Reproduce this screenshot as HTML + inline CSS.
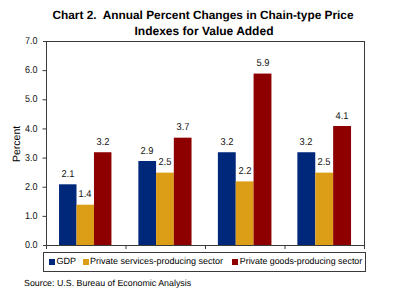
<!DOCTYPE html>
<html><head><meta charset="utf-8"><style>
html,body{margin:0;padding:0;background:#fff;width:400px;height:298px;overflow:hidden;position:relative}
body{font-family:"Liberation Sans",sans-serif;color:#000}
.t{position:absolute;white-space:nowrap;line-height:1;text-rendering:geometricPrecision}
.title{position:absolute;left:0;width:406px;text-align:center;font-weight:bold;font-size:12px;line-height:12px;white-space:nowrap;text-rendering:geometricPrecision}
.vl{position:absolute;width:40px;text-align:center;font-size:10px;line-height:10px;white-space:nowrap;color:#111;transform:scaleX(0.93);text-rendering:geometricPrecision}
.yl{position:absolute;left:0;width:37.5px;text-align:right;font-size:10px;line-height:12px;white-space:nowrap;color:#111;transform:scaleX(0.9);transform-origin:36.8px 0;text-rendering:geometricPrecision}
svg{position:absolute;left:0;top:0}
</style></head><body>
<div class="title" style="top:8.6px;font-size:11.85px">Chart 2.&nbsp; Annual Percent Changes in Chain-type Price</div>
<div class="title" style="top:25px;left:1px">Indexes for Value Added</div>
<svg width="400" height="298" viewBox="0 0 400 298">
<g>
<rect x="59.03" y="184.30" width="17.47" height="61.20" fill="#00287a"/>
<rect x="76.50" y="204.70" width="17.47" height="40.80" fill="#dc9e16"/>
<rect x="93.97" y="152.24" width="17.47" height="93.26" fill="#8e0000"/>
<rect x="138.36" y="160.99" width="17.72" height="84.51" fill="#00287a"/>
<rect x="156.08" y="172.64" width="17.72" height="72.86" fill="#dc9e16"/>
<rect x="173.81" y="137.67" width="17.72" height="107.83" fill="#8e0000"/>
<rect x="217.87" y="152.24" width="17.86" height="93.26" fill="#00287a"/>
<rect x="235.73" y="181.39" width="17.86" height="64.11" fill="#dc9e16"/>
<rect x="253.58" y="73.56" width="17.86" height="171.94" fill="#8e0000"/>
<rect x="297.36" y="152.24" width="17.89" height="93.26" fill="#00287a"/>
<rect x="315.25" y="172.64" width="17.89" height="72.86" fill="#dc9e16"/>
<rect x="333.15" y="126.01" width="17.89" height="119.49" fill="#8e0000"/>
</g>
<g stroke="#3a3a3a" stroke-width="1" fill="none">
<rect x="46.5" y="41.5" width="318" height="204" shape-rendering="crispEdges"/>
<line x1="42.5" y1="41.5" x2="46.5" y2="41.5" shape-rendering="crispEdges"/>
<line x1="42.5" y1="245.5" x2="46.5" y2="245.5" shape-rendering="crispEdges"/>
<line x1="42.5" y1="216.36" x2="46.5" y2="216.36"/>
<line x1="42.5" y1="187.21" x2="46.5" y2="187.21"/>
<line x1="42.5" y1="158.07" x2="46.5" y2="158.07"/>
<line x1="42.5" y1="128.93" x2="46.5" y2="128.93"/>
<line x1="42.5" y1="99.79" x2="46.5" y2="99.79"/>
<line x1="42.5" y1="70.64" x2="46.5" y2="70.64"/>
<line x1="126" y1="245.5" x2="126" y2="249"/>
<line x1="205.5" y1="245.5" x2="205.5" y2="249"/>
<line x1="285" y1="245.5" x2="285" y2="249"/>
<line x1="364.5" y1="245.5" x2="364.5" y2="249"/>
<line x1="46.5" y1="245.5" x2="46.5" y2="249"/>
</g>
<g shape-rendering="crispEdges">
<rect x="43.5" y="252.5" width="322" height="19" fill="#fff" stroke="#3a3a3a"/>
<rect x="49" y="259" width="6" height="6" fill="#00287a"/>
<rect x="83" y="259" width="6" height="6" fill="#dc9e16"/>
<rect x="232" y="259" width="6" height="6" fill="#8e0000"/>
</g>
</svg>
<div class="yl" style="top:240.20px">0.0</div>
<div class="yl" style="top:211.06px">1.0</div>
<div class="yl" style="top:181.91px">2.0</div>
<div class="yl" style="top:152.77px">3.0</div>
<div class="yl" style="top:123.63px">4.0</div>
<div class="yl" style="top:94.49px">5.0</div>
<div class="yl" style="top:65.34px">6.0</div>
<div class="yl" style="top:36.20px">7.0</div>
<div class="vl" style="left:47.77px;top:170.00px">2.1</div>
<div class="vl" style="left:65.23px;top:190.40px">1.4</div>
<div class="vl" style="left:82.70px;top:137.94px">3.2</div>
<div class="vl" style="left:127.22px;top:146.69px">2.9</div>
<div class="vl" style="left:144.94px;top:158.34px">2.5</div>
<div class="vl" style="left:162.67px;top:123.37px">3.7</div>
<div class="vl" style="left:206.80px;top:137.94px">3.2</div>
<div class="vl" style="left:224.66px;top:167.09px">2.2</div>
<div class="vl" style="left:242.51px;top:59.26px">5.9</div>
<div class="vl" style="left:286.31px;top:137.94px">3.2</div>
<div class="vl" style="left:304.20px;top:158.34px">2.5</div>
<div class="vl" style="left:322.09px;top:111.71px">4.1</div>
<div class="t" style="left:12.3px;top:143px;font-size:10.5px;transform-origin:0 0;transform:rotate(-90deg) translate(-19px,0)">Percent</div>
<div class="t" style="left:56.5px;top:256.6px;font-size:9px">GDP</div>
<div class="t" style="left:90px;top:256.6px;font-size:9px">Private services-producing sector</div>
<div class="t" style="left:239.8px;top:256.6px;font-size:8.85px">Private goods-producing sector</div>
<div class="t" style="left:24px;top:278.5px;font-size:8.85px">Source: U.S. Bureau of Economic Analysis</div>
</body></html>
